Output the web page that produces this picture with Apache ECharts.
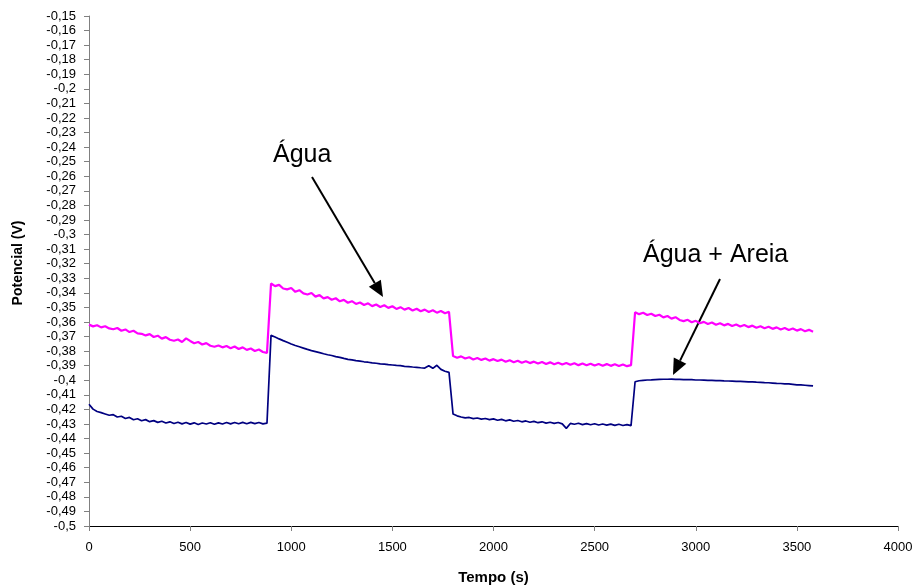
<!DOCTYPE html>
<html>
<head>
<meta charset="utf-8">
<script src="https://cdn.jsdelivr.net/npm/echarts@6/dist/echarts.min.js"></script>
<style>
  html, body { margin: 0; padding: 0; background: #fff; }
  #grafico { width: 912px; height: 587px; }
</style>
</head>
<body>
<div id="grafico"></div>
<script>
// leitura a cada 20 s, de 0 a 3580 s
var passo = 20;

// Potencial (V) - Água
var agua = [
  -0.3618, -0.3630, -0.3622, -0.3637, -0.3629, -0.3644, -0.3650, -0.3641, -0.3660, -0.3651, -0.3669, -0.3660, -0.3678, -0.3681, -0.3692,
  -0.3683, -0.3703, -0.3694, -0.3714, -0.3704, -0.3722, -0.3729, -0.3720, -0.3737, -0.3712, -0.3730, -0.3746, -0.3737, -0.3754, -0.3745,
  -0.3763, -0.3770, -0.3761, -0.3774, -0.3765, -0.3780, -0.3768, -0.3785, -0.3774, -0.3791, -0.3782, -0.3799, -0.3789, -0.3806, -0.3812,
  // 900 s
  -0.3336, -0.3354, -0.3345, -0.3370, -0.3376, -0.3367, -0.3393, -0.3382, -0.3404, -0.3411, -0.3401, -0.3426, -0.3415, -0.3438, -0.3429,
  -0.3447, -0.3437, -0.3458, -0.3448, -0.3468, -0.3457, -0.3476, -0.3466, -0.3483, -0.3472, -0.3491, -0.3480, -0.3497, -0.3485, -0.3503,
  -0.3492, -0.3510, -0.3498, -0.3515, -0.3504, -0.3521, -0.3509, -0.3526, -0.3515, -0.3531, -0.3519, -0.3536, -0.3524, -0.3540, -0.3530,
  // 1800 s
  -0.3834, -0.3845, -0.3836, -0.3851, -0.3842, -0.3857, -0.3847, -0.3860, -0.3850, -0.3865, -0.3855, -0.3868, -0.3858, -0.3873, -0.3863,
  -0.3876, -0.3866, -0.3880, -0.3869, -0.3882, -0.3872, -0.3885, -0.3874, -0.3888, -0.3877, -0.3890, -0.3879, -0.3892, -0.3881, -0.3894,
  -0.3883, -0.3896, -0.3885, -0.3897, -0.3886, -0.3899, -0.3888, -0.3900, -0.3889, -0.3901, -0.3890, -0.3902, -0.3891, -0.3903, -0.3896,
  // 2700 s
  -0.3533, -0.3546, -0.3537, -0.3552, -0.3543, -0.3559, -0.3550, -0.3568, -0.3559, -0.3577, -0.3567, -0.3586, -0.3594, -0.3585, -0.3602,
  -0.3592, -0.3609, -0.3599, -0.3614, -0.3604, -0.3619, -0.3609, -0.3623, -0.3613, -0.3627, -0.3617, -0.3631, -0.3621, -0.3635, -0.3625,
  -0.3639, -0.3629, -0.3643, -0.3633, -0.3647, -0.3637, -0.3651, -0.3641, -0.3655, -0.3645, -0.3659, -0.3649, -0.3663, -0.3654, -0.3667
];

// Potencial (V) - Água + Areia
var aguaAreia = [
  -0.4164, -0.4198, -0.4214, -0.4222, -0.4231, -0.4240, -0.4236, -0.4252, -0.4247, -0.4262, -0.4255, -0.4271, -0.4264, -0.4278, -0.4270,
  -0.4284, -0.4277, -0.4289, -0.4281, -0.4293, -0.4285, -0.4297, -0.4288, -0.4299, -0.4290, -0.4301, -0.4292, -0.4303, -0.4293, -0.4300,
  -0.4291, -0.4302, -0.4292, -0.4300, -0.4290, -0.4299, -0.4290, -0.4298, -0.4289, -0.4298, -0.4289, -0.4297, -0.4290, -0.4299, -0.4294,
  // 900 s
  -0.3692, -0.3703, -0.3716, -0.3728, -0.3739, -0.3751, -0.3761, -0.3770, -0.3779, -0.3788, -0.3796, -0.3803, -0.3810, -0.3818, -0.3825,
  -0.3830, -0.3838, -0.3843, -0.3850, -0.3856, -0.3860, -0.3865, -0.3869, -0.3873, -0.3876, -0.3880, -0.3883, -0.3887, -0.3889, -0.3893,
  -0.3895, -0.3898, -0.3900, -0.3904, -0.3906, -0.3909, -0.3911, -0.3914, -0.3916, -0.3900, -0.3918, -0.3897, -0.3925, -0.3938, -0.3946,
  // 1800 s
  -0.4232, -0.4244, -0.4252, -0.4258, -0.4255, -0.4263, -0.4259, -0.4267, -0.4262, -0.4270, -0.4265, -0.4274, -0.4268, -0.4278, -0.4272,
  -0.4281, -0.4276, -0.4285, -0.4279, -0.4288, -0.4282, -0.4291, -0.4285, -0.4294, -0.4288, -0.4296, -0.4290, -0.4299, -0.4330, -0.4296,
  -0.4302, -0.4295, -0.4304, -0.4297, -0.4305, -0.4298, -0.4307, -0.4300, -0.4308, -0.4301, -0.4309, -0.4302, -0.4310, -0.4304, -0.4311,
  // 2700 s
  -0.4010, -0.4003, -0.4000, -0.3998, -0.3997, -0.3995, -0.3994, -0.3993, -0.3993, -0.3992, -0.3994, -0.3994, -0.3995, -0.3996, -0.3996,
  -0.3998, -0.3998, -0.3999, -0.4000, -0.4001, -0.4002, -0.4002, -0.4004, -0.4005, -0.4006, -0.4007, -0.4008, -0.4009, -0.4011, -0.4011,
  -0.4013, -0.4014, -0.4016, -0.4017, -0.4019, -0.4021, -0.4022, -0.4024, -0.4025, -0.4028, -0.4031, -0.4032, -0.4034, -0.4036, -0.4038
];

// eixos
var eixoX = { min: 0, max: 4000, intervalo: 500 };
var eixoY = { min: -0.5, max: -0.15, intervalo: 0.01 };

var fonte = '"Liberation Sans", Arial, sans-serif';

function pares(valores) {
  return valores.map(function (v, i) { return [i * passo, v]; });
}

// seta: linha + ponta triangular
function seta(x1, y1, x2, y2) {
  var dx = x2 - x1, dy = y2 - y1;
  var len = Math.sqrt(dx * dx + dy * dy);
  var ux = dx / len, uy = dy / len;
  var comp = 16, larg = 7;
  var bx = x2 - ux * comp, by = y2 - uy * comp;
  return {
    type: 'group',
    children: [
      {
        type: 'line',
        shape: { x1: x1, y1: y1, x2: bx, y2: by },
        style: { stroke: '#000', lineWidth: 2 }
      },
      {
        type: 'polygon',
        shape: {
          points: [
            [x2, y2],
            [bx - uy * larg, by + ux * larg],
            [bx + uy * larg, by - ux * larg]
          ]
        },
        style: { fill: '#000' }
      }
    ]
  };
}

var grafico = echarts.init(document.getElementById('grafico'));

var option = {
  animation: false,
  backgroundColor: '#fff',
  grid: { left: 89, top: 16, right: 14, bottom: 61, containLabel: false, outerBoundsMode: 'none' },
  xAxis: {
    type: 'value',
    min: eixoX.min,
    max: eixoX.max,
    interval: eixoX.intervalo,
    name: 'Tempo (s)',
    nameLocation: 'middle',
    nameGap: 44,
    nameTextStyle: { fontFamily: fonte, fontSize: 15, fontWeight: 'bold', color: '#000' },
    splitLine: { show: false },
    axisLine: { lineStyle: { color: '#000', width: 1 } },
    axisTick: { show: true, length: 5, lineStyle: { color: '#808080' } },
    axisLabel: {
      fontFamily: fonte,
      fontSize: 13,
      color: '#000',
      margin: 15,
      formatter: function (v) { return String(v); }
    }
  },
  yAxis: {
    type: 'value',
    min: eixoY.min,
    max: eixoY.max,
    interval: eixoY.intervalo,
    name: 'Potencial (V)',
    nameLocation: 'middle',
    nameGap: 64,
    nameTextStyle: { fontFamily: fonte, fontSize: 14, fontWeight: 'bold', color: '#000', padding: [0, 0, 0, 16] },
    splitLine: { show: false },
    axisLine: { show: true, lineStyle: { color: '#808080', width: 1 } },
    axisTick: { show: true, length: 5, lineStyle: { color: '#808080' } },
    axisLabel: {
      fontFamily: fonte,
      fontSize: 13,
      color: '#000',
      margin: 13,
      formatter: function (v) {
        return String(+v.toFixed(2)).replace('.', ',');
      }
    }
  },
  series: [
    {
      name: 'Água',
      type: 'line',
      data: pares(agua),
      showSymbol: false,
      lineStyle: { color: '#ff00ff', width: 2.2 }
    },
    {
      name: 'Água + Areia',
      type: 'line',
      data: pares(aguaAreia),
      showSymbol: false,
      lineStyle: { color: '#000080', width: 1.7 }
    }
  ],
  graphic: [
    {
      type: 'text',
      left: 273,
      top: 143,
      style: { text: 'Água', font: '25px ' + fonte, fill: '#000' }
    },
    {
      type: 'text',
      left: 643,
      top: 243,
      style: { text: 'Água + Areia', font: '25px ' + fonte, fill: '#000' }
    },
    seta(312, 177, 383, 297),
    seta(720, 279, 673, 375)
  ]
};

grafico.setOption(option);
</script>
</body>
</html>
